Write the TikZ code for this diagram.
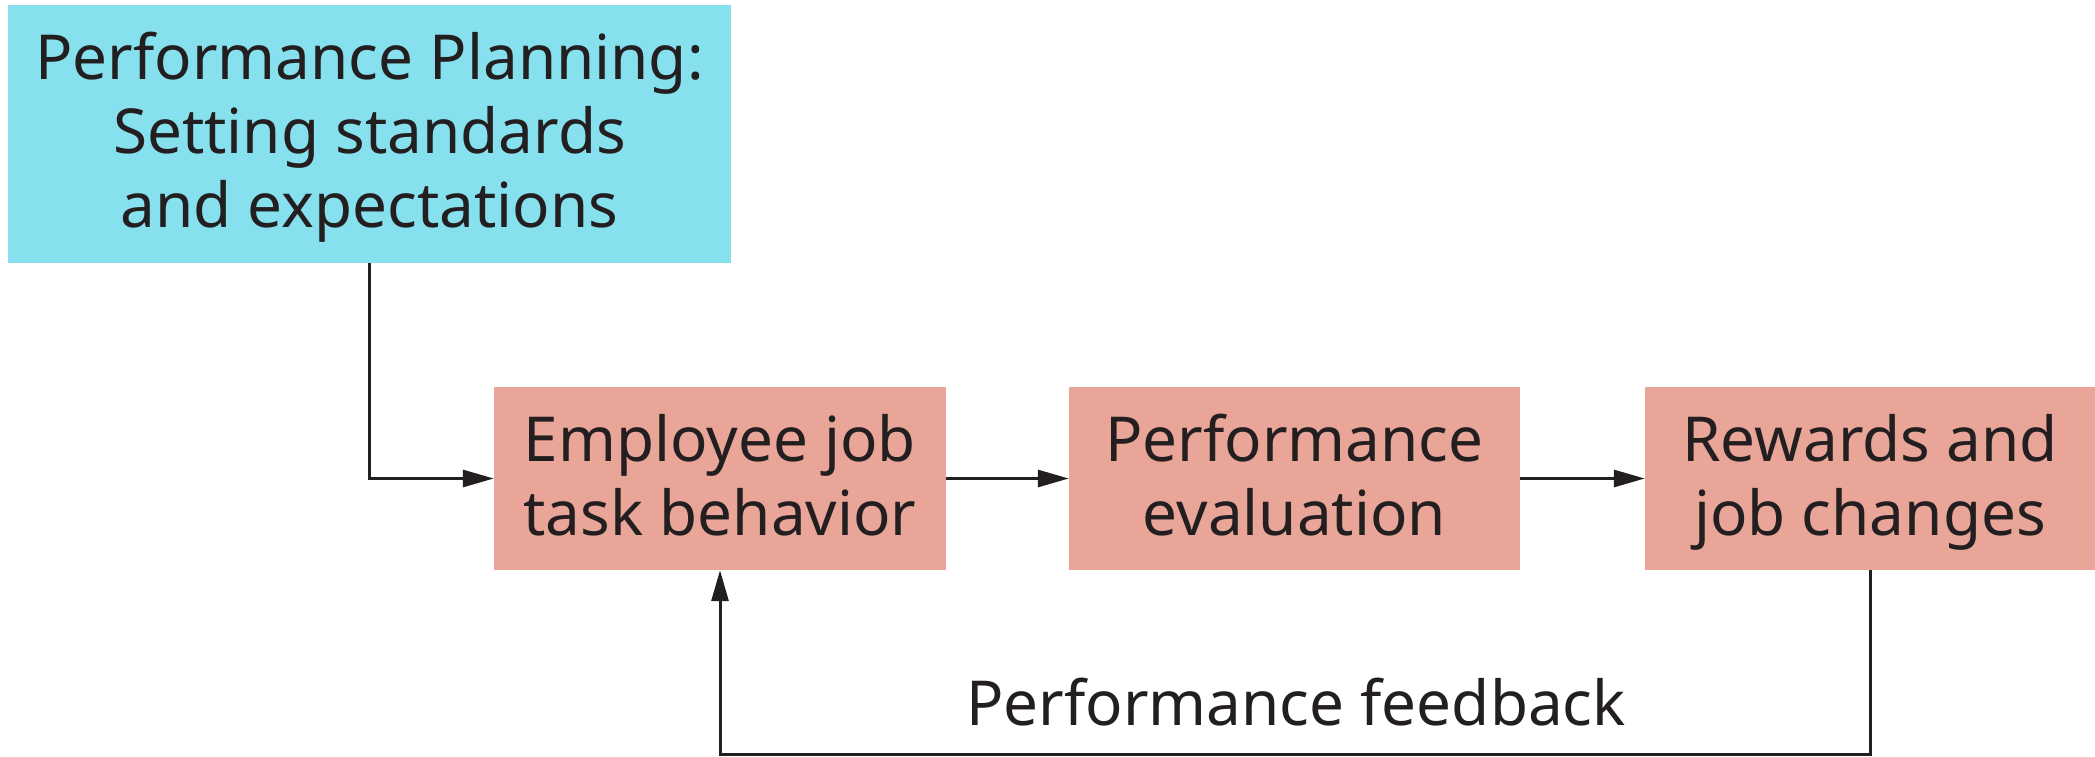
\documentclass[tikz,border=0pt]{standalone}
\usepackage{fontspec}
\setmainfont{Noto Sans}
\usetikzlibrary{arrows.meta}
\definecolor{plancyan}{RGB}{134,224,237}
\definecolor{boxpink}{RGB}{233,165,152}
\definecolor{ink}{RGB}{35,31,32}
\newcommand{\lnst}{\rule[-16pt]{0pt}{72pt}}
\tikzset{
  txt/.style={font=\fontsize{62}{74}\selectfont, text=ink, align=center, inner sep=0pt},
  planbox/.style={txt, fill=plancyan, minimum width=723pt, minimum height=258pt},
  stagebox/.style={txt, fill=boxpink, minimum height=183pt},
  conn/.style={draw=ink, line width=3pt, -{Triangle[length=31pt,width=17pt]}},
  plainconn/.style={draw=ink, line width=3pt}
}
\begin{document}
\begin{tikzpicture}[x=1pt,y=1pt]
\useasboundingbox (0,0) rectangle (2095,756);
\node[planbox] (plan) at (369.5,622) {\lnst Performance Planning:\\\lnst Setting standards\\\lnst and expectations};
\node[stagebox, minimum width=452pt] (emp) at (720,277.5) {\lnst Employee job\\\lnst task behavior};
\node[stagebox, minimum width=451pt] (eval) at (1294.5,277.5) {\lnst Performance\\\lnst evaluation};
\node[stagebox, minimum width=450pt] (rew) at (1870,277.5) {\lnst Rewards and\\\lnst job changes};
\coordinate (fbb) at (0,2);
\draw[conn] (plan.south) |- (emp.west);
\draw[conn] (emp.east) -- (eval.west);
\draw[conn] (eval.east) -- (rew.west);
\draw[conn] (rew.south) -- (rew.south |- fbb) -- (emp.south |- fbb) -- (emp.south);
\node[txt, anchor=base] (fbl) at (1296,31) {Performance feedback};
\end{tikzpicture}
\end{document}
